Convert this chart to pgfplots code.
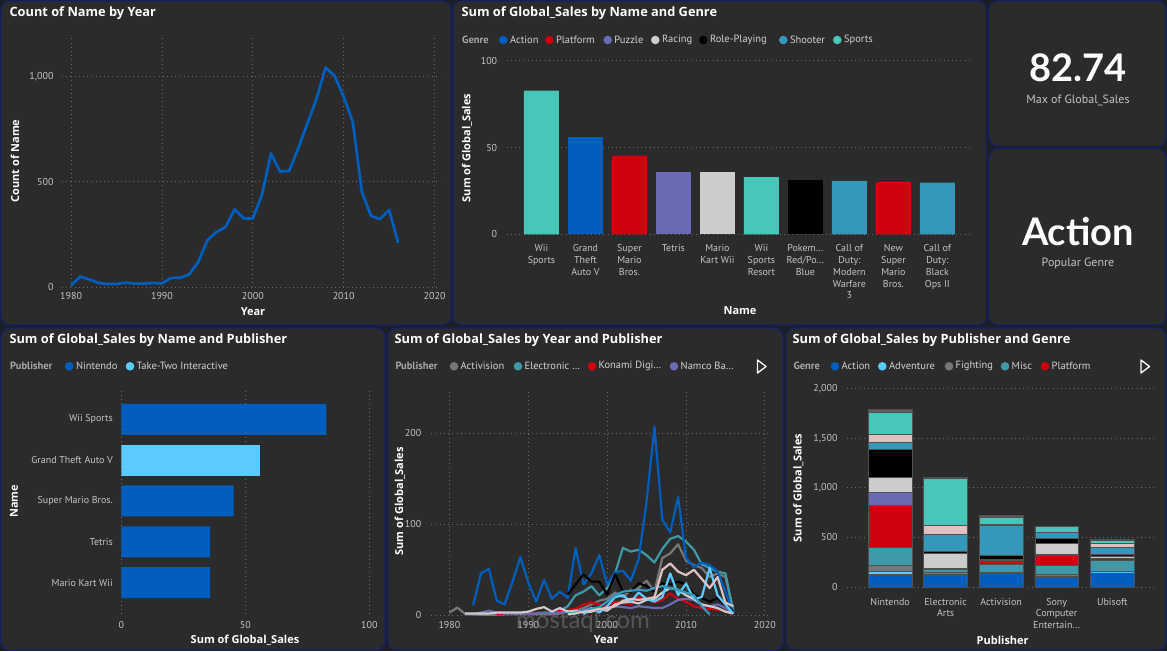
\documentclass[border=0pt]{standalone}
\usepackage{fontspec}
\setmainfont{Lato}
\newfontfamily\din{PT Sans}
\newfontfamily\seg{Open Sans}
\usepackage{pgfplots}
\pgfplotsset{compat=1.18}
\definecolor{bgc}{HTML}{1C1E26}
\definecolor{panel}{HTML}{2B2B2B}
\definecolor{pborder}{HTML}{142368}
\definecolor{cGrid}{HTML}{6A6A6A}
\definecolor{cTick}{HTML}{C4C4C4}
\definecolor{cLeg}{HTML}{D2D2D2}
\definecolor{cLegT}{HTML}{A8A8A8}
\definecolor{cAction}{HTML}{005FBE}
\definecolor{cAdv}{HTML}{5BCBFF}
\definecolor{cFight}{HTML}{777777}
\definecolor{cMisc}{HTML}{3F99A9}
\definecolor{cPlat}{HTML}{D0000F}
\definecolor{cPuzzle}{HTML}{6B6BB5}
\definecolor{cRacing}{HTML}{CCCCCC}
\definecolor{cRP}{HTML}{000000}
\definecolor{cShooter}{HTML}{3398BA}
\definecolor{cSim}{HTML}{E0C0C0}
\definecolor{cSports}{HTML}{48C6BA}
\definecolor{cStrat}{HTML}{5E5E5E}
\definecolor{cSeg}{HTML}{505050}
\pgfplotsset{pb/.style={scale only axis, anchor=south west,
  axis line style={draw=none}, major tick style={draw=none},
  grid style={cGrid, line width=0.8pt, dash pattern=on 0.9pt off 3.3pt},
  tick label style={font=\din\fontsize{10}{11.7}\selectfont, text=cTick},
  /pgf/number format/assume math mode=true}}
\newcommand{\ttl}[2]{\node[anchor=west, font=\seg\bfseries\fontsize{12.8}{14}\selectfont, text=white] at #1 {#2};}
\newcommand{\atl}[2]{\node[font=\seg\bfseries\fontsize{11}{12}\selectfont, text=white] at #1 {#2};}
\newcommand{\aty}[2]{\node[rotate=90, font=\seg\bfseries\fontsize{11}{12}\selectfont, text=white] at #1 {#2};}
\newcommand{\legt}[2]{\node[anchor=west, font=\din\bfseries\fontsize{10.5}{12}\selectfont, text=cLegT, inner sep=0pt] at #1 {#2};}
\newcommand{\legi}[4]{\fill[#3] (#1pt,-#2pt) circle (4.3pt); \node[anchor=west, font=\din\fontsize{10.5}{12}\selectfont, text=cLeg, inner sep=0pt] at (#1pt+6.5pt,-#2pt) {#4};}
\begin{document}
\begin{tikzpicture}[x=1pt,y=1pt]
\useasboundingbox (0,0) rectangle (1167,-651);
\fill[bgc] (0,0) rectangle (1167,-651);
\foreach \a/\b/\c/\d in {1/1/451/325, 453/1/986/325, 989/1/1166/146, 989/149/1166/325, 1/328/385/650, 388/328/783/650, 786/328/1166/650}
  {\filldraw[fill=panel, draw=pborder, line width=1.2pt, rounded corners=9pt] (\a,-\b) rectangle (\c,-\d);}

% ---------- Chart 1 ----------
\ttl{(6,-13)}{Count of Name by Year}
\begin{axis}[pb, at={(62pt,-287pt)}, width=378pt, height=252pt,
  xmin=1979, xmax=2020.6, ymin=0, ymax=1196,
  xtick={1980,1990,2000,2010,2020}, ytick={0,500,1000},
  xmajorgrids, ymajorgrids,
  xticklabel style={/pgf/number format/1000 sep={}},
  yticklabel style={/pgf/number format/1000 sep={,}},
  yticklabel shift=5pt, xticklabel shift=2pt]
\addplot[cAction, line width=2.7pt, line join=round] coordinates {
(1980,8) (1981,49) (1982,36) (1983,19) (1984,14) (1985,14) (1986,21) (1987,16) (1988,16) (1989,19)
(1990,17) (1991,43) (1992,44) (1993,60) (1994,119) (1995,222) (1996,261) (1997,285) (1998,368) (1999,326)
(2000,325) (2001,436) (2002,634) (2003,548) (2004,551) (2005,658) (2006,776) (2007,891) (2008,1041) (2009,1003)
(2010,903) (2011,784) (2012,452) (2013,338) (2014,322) (2015,366) (2016,209)};
\end{axis}
\aty{(15,-161)}{Count of Name}
\atl{(253,-312)}{Year}

% ---------- Chart 2 ----------
\ttl{(458,-13)}{Sum of Global\_Sales by Name and Genre}
\legt{(462,-40)}{Genre}
\legi{503.3}{40}{cAction}{Action}
\legi{549.3}{40}{cPlat}{Platform}
\legi{607.7}{40}{cPuzzle}{Puzzle}
\legi{655.3}{40}{cRacing}{Racing}
\legi{703.3}{40}{cRP}{Role-Playing}
\legi{783.3}{40}{cShooter}{Shooter}
\legi{837.3}{40}{cSports}{Sports}
\begin{axis}[pb, at={(506.7pt,-234.3pt)}, width=465pt, height=173.6pt,
  xmin=-0.79, xmax=9.78, ymin=0, ymax=100,
  ytick={0,50,100}, ymajorgrids, xtick={0,1,2,3,4,5,6,7,8,9},
  xticklabels={{Wii\\Sports},{Grand\\Theft\\Auto V},{Super\\Mario\\Bros.},{Tetris},{Mario\\Kart Wii},{Wii\\Sports\\Resort},{Pokem…\\Red/Po…\\Blue},{Call of\\Duty:\\Modern\\Warfare\\3},{New\\Super\\Mario\\Bros.},{Call of\\Duty:\\Black\\Ops II}},
  xticklabel style={align=center, anchor=north},
  yticklabel shift=6pt, xticklabel shift=7pt]
\addplot[ybar, bar width=35pt, bar shift=0pt, fill=cSports, draw=none] coordinates {(0,82.74) (5,33.00)};
\addplot[ybar, bar width=35pt, bar shift=0pt, fill=cAction, draw=none] coordinates {(1,55.92)};
\addplot[ybar, bar width=35pt, bar shift=0pt, fill=cPlat, draw=none] coordinates {(2,45.31) (8,30.01)};
\addplot[ybar, bar width=35pt, bar shift=0pt, fill=cPuzzle, draw=none] coordinates {(3,35.84)};
\addplot[ybar, bar width=35pt, bar shift=0pt, fill=cRacing, draw=none] coordinates {(4,35.82)};
\addplot[ybar, bar width=35pt, bar shift=0pt, fill=cRP, draw=none] coordinates {(6,31.37)};
\addplot[ybar, bar width=35pt, bar shift=0pt, fill=cShooter, draw=none] coordinates {(7,30.83) (9,29.72)};
\end{axis}
\aty{(467,-148)}{Sum of Global\_Sales}
\atl{(740,-311)}{Name}

% ---------- KPI ----------
\node[font=\bfseries\fontsize{38}{40}\selectfont, text=white] at (1078,-68) {82.74};
\node[font=\din\fontsize{12}{14}\selectfont, text=cTick] at (1078,-100) {Max of Global\_Sales};
\node[font=\bfseries\fontsize{38}{40}\selectfont, text=white] at (1078,-232) {Action};
\node[font=\din\fontsize{12}{14}\selectfont, text=cTick] at (1078,-263) {Popular Genre};

% ---------- Chart 5 ----------
\ttl{(6,-340.5)}{Sum of Global\_Sales by Name and Publisher}
\legt{(10,-366.3)}{Publisher}
\legi{69.3}{366.3}{cAction}{Nintendo}
\legi{130}{366.3}{cAdv}{Take-Two Interactive}
\begin{axis}[pb, at={(121.3pt,-615.3pt)}, width=248pt, height=224.6pt,
  xmin=0, xmax=100, ymin=-0.70, ymax=4.80, y dir=reverse,
  xtick={0,50,100}, xmajorgrids, ytick={0,1,2,3,4},
  yticklabels={Wii Sports,Grand Theft Auto V,Super Mario Bros.,Tetris,Mario Kart Wii},
  yticklabel shift=5pt, xticklabel shift=3pt]
\addplot[xbar, bar width=31pt, bar shift=0pt, fill=cAction, draw=none] coordinates {(82.74,0) (45.31,2) (35.84,3) (35.82,4)};
\addplot[xbar, bar width=31pt, bar shift=0pt, fill=cAdv, draw=none] coordinates {(55.92,1)};
\end{axis}
\aty{(14,-501.3)}{Name}
\atl{(245,-640)}{Sum of Global\_Sales}

% ---------- Chart 6 ----------
\ttl{(391,-340.5)}{Sum of Global\_Sales by Year and Publisher}
\legt{(395.3,-366.3)}{Publisher}
\legi{454}{366.3}{cFight}{Activision}
\legi{518}{366.3}{cMisc}{Electronic …}
\legi{592}{366.3}{cPlat}{Konami Digi…}
\legi{674}{366.3}{cPuzzle}{Namco Ba…}
\draw[white, line width=1.3pt, line join=round] (757.5,-360) -- (766,-366.5) -- (757.5,-373) -- cycle;
\begin{axis}[pb, at={(431.3pt,-615.3pt)}, width=336.7pt, height=224pt,
  xmin=1977.7, xmax=2020.4, ymin=0, ymax=246,
  xtick={1980,1990,2000,2010,2020}, ytick={0,100,200},
  xmajorgrids, ymajorgrids,
  xticklabel style={/pgf/number format/1000 sep={}},
  yticklabel shift=6.5pt, xticklabel shift=3pt,
  every axis plot/.append style={line width=2.2pt, line join=round}]
% Activision
\addplot[cFight] coordinates {(1980,3) (1981,8.5) (1982,1.5) (1983,1) (1984,0.5) (1985,0.5) (1986,0.5) (1987,1) (1988,1) (1989,1) (1990,1) (1991,1) (1992,1) (1993,1) (1994,2) (1995,4) (1996,5) (1997,8) (1998,12) (1999,16) (2000,18) (2001,25) (2002,20) (2003,28) (2004,30) (2005,38) (2006,26) (2007,63) (2008,68) (2009,78) (2010,60) (2011,55) (2012,52) (2013,42) (2014,46) (2015,42) (2016,6)};
% EA
\addplot[cMisc] coordinates {(1992,3) (1993,4) (1994,5) (1995,10) (1996,22) (1997,26) (1998,32) (1999,22) (2000,30) (2001,46) (2002,74) (2003,70) (2004,72) (2005,66) (2006,58) (2007,73) (2008,84) (2009,87) (2010,81) (2011,72) (2012,56) (2013,52) (2014,48) (2015,46) (2016,4)};
% Konami
\addplot[cPlat] coordinates {(1986,1) (1987,2) (1988,2) (1989,3) (1990,2) (1991,3) (1992,3) (1993,4) (1994,5) (1995,6) (1996,7) (1997,12) (1998,14) (1999,12) (2000,10) (2001,15) (2002,14) (2003,12) (2004,20) (2005,18) (2006,14) (2007,17) (2008,24) (2009,18) (2010,15) (2011,10) (2012,8) (2013,7) (2014,6) (2015,5) (2016,1)};
% Namco
\addplot[cPuzzle] coordinates {(1982,1) (1983,1) (1984,3) (1985,5) (1986,3) (1987,2) (1988,2) (1989,2) (1990,2) (1991,2) (1992,3) (1993,2) (1994,3) (1995,4) (1996,5) (1997,6) (1998,8) (1999,6) (2000,7) (2001,10) (2002,9) (2003,8) (2004,10) (2005,9) (2006,8) (2007,8) (2008,12) (2009,17) (2010,18) (2011,17) (2012,11) (2013,10) (2014,12) (2015,8) (2016,3)};
% Nintendo
\addplot[cAction] coordinates {(1983,11) (1984,46) (1985,51) (1986,16) (1987,12) (1988,37) (1989,64) (1990,36) (1991,15) (1992,39) (1993,18) (1994,26) (1995,19) (1996,74) (1997,34) (1998,46) (1999,66) (2000,34) (2001,47) (2002,49) (2003,38) (2004,62) (2005,125) (2006,207) (2007,105) (2008,91) (2009,130) (2010,63) (2011,53) (2012,58) (2013,55) (2014,48) (2015,26) (2016,3)};
% Sega
\addplot[cRacing] coordinates {(1982,2) (1983,2) (1984,2) (1985,2) (1986,3) (1987,3) (1988,3) (1989,3) (1990,4) (1991,7) (1992,9) (1993,4) (1994,8) (1995,4) (1996,5) (1997,3) (1998,4) (1999,7) (2000,5) (2001,12) (2002,14) (2003,15) (2004,13) (2005,17) (2006,18) (2007,25) (2008,30) (2009,28) (2010,22) (2011,18) (2012,12) (2013,10) (2014,8) (2015,4) (2016,2)};
% Sony
\addplot[cRP] coordinates {(1995,23) (1996,34) (1997,45) (1998,37) (1999,37) (2000,23) (2001,45) (2002,26) (2003,26) (2004,35) (2005,32) (2006,26) (2007,35) (2008,34) (2009,37) (2010,34) (2011,23) (2012,19) (2013,15) (2014,19) (2015,12) (2016,4)};
% Take-Two
\addplot[cAdv] coordinates {(1997,1) (1998,8) (1999,3) (2000,10) (2001,20) (2002,22) (2003,15) (2004,25) (2005,18) (2006,15) (2007,20) (2008,46) (2009,22) (2010,35) (2011,18) (2012,20) (2013,52) (2014,22) (2015,12) (2016,2)};
% THQ
\addplot[cShooter] coordinates {(1995,2) (1996,3) (1997,5) (1998,7) (1999,9) (2000,15) (2001,22) (2002,26) (2003,27) (2004,28) (2005,27) (2006,30) (2007,32) (2008,30) (2009,28) (2010,25) (2011,22) (2012,10) (2013,1)};
% Ubisoft
\addplot[cSim] coordinates {(1995,1) (1996,2) (1997,4) (1998,5) (1999,7) (2000,8) (2001,10) (2002,16) (2003,18) (2004,17) (2005,18) (2006,20) (2007,50) (2008,57) (2009,48) (2010,44) (2011,50) (2012,40) (2013,30) (2014,42) (2015,14) (2016,10)};
\end{axis}
\aty{(399.7,-501.3)}{Sum of Global\_Sales}
\atl{(606,-640)}{Year}
\node[font=\fontsize{24}{26}\selectfont, text=gray, opacity=0.5] at (583,-622) {mostaql.com};

% ---------- Chart 7 ----------
\ttl{(789,-340.5)}{Sum of Global\_Sales by Publisher and Genre}
\legt{(793.3,-366.3)}{Genre}
\legi{835}{366.3}{cAction}{Action}
\legi{882.3}{366.3}{cAdv}{Adventure}
\legi{949}{366.3}{cFight}{Fighting}
\legi{1005}{366.3}{cMisc}{Misc}
\legi{1045}{366.3}{cPlat}{Platform}
\draw[white, line width=1.3pt, line join=round] (1141,-360) -- (1149.5,-366.5) -- (1141,-373) -- cycle;
\begin{axis}[pb, at={(846.7pt,-587pt)}, width=308.3pt, height=198.3pt,
  xmin=-0.78, xmax=4.77, ymin=0, ymax=2000,
  ytick={0,500,1000,1500,2000}, ymajorgrids, xtick={0,1,2,3,4},
  xticklabels={{Nintendo},{Electronic\\Arts},{Activision},{Sony\\Computer\\Entertain…},{Ubisoft}},
  xticklabel style={align=center, anchor=north},
  yticklabel style={/pgf/number format/1000 sep={,}},
  yticklabel shift=5.7pt, xticklabel shift=7.5pt,
  ybar stacked, bar width=43.7pt,
  every axis plot/.append style={draw=cSeg, line width=0.6pt}]
\addplot[fill=cAction] coordinates {(0,131) (1,118) (2,141) (3,95) (4,142)};
\addplot[fill=cAdv] coordinates {(0,30) (1,7) (2,3) (3,8) (4,12)};
\addplot[fill=cFight] coordinates {(0,57) (1,21) (2,5) (3,30) (4,4)};
\addplot[fill=cMisc] coordinates {(0,182) (1,33) (2,80) (3,85) (4,114)};
\addplot[fill=cPlat] coordinates {(0,427) (1,7) (2,36) (3,104) (4,17)};
\addplot[fill=cPuzzle] coordinates {(0,124) (1,4) (2,2) (3,3) (4,4)};
\addplot[fill=cRacing] coordinates {(0,151) (1,146) (2,15) (3,112) (4,20)};
\addplot[fill=cRP] coordinates {(0,286) (1,22) (2,40) (3,50) (4,16)};
\addplot[fill=cShooter] coordinates {(0,74) (1,169) (2,303) (3,61) (4,71)};
\addplot[fill=cSim] coordinates {(0,80) (1,91) (2,7) (3,2) (4,44)};
\addplot[fill=cSports] coordinates {(0,222) (1,474) (2,70) (3,58) (4,24)};
\addplot[fill=cStrat] coordinates {(0,27) (1,17) (2,18) (3,3) (4,9)};
\end{axis}
\aty{(798.3,-488)}{Sum of Global\_Sales}
\atl{(1002.7,-640)}{Publisher}
\end{tikzpicture}
\end{document}
